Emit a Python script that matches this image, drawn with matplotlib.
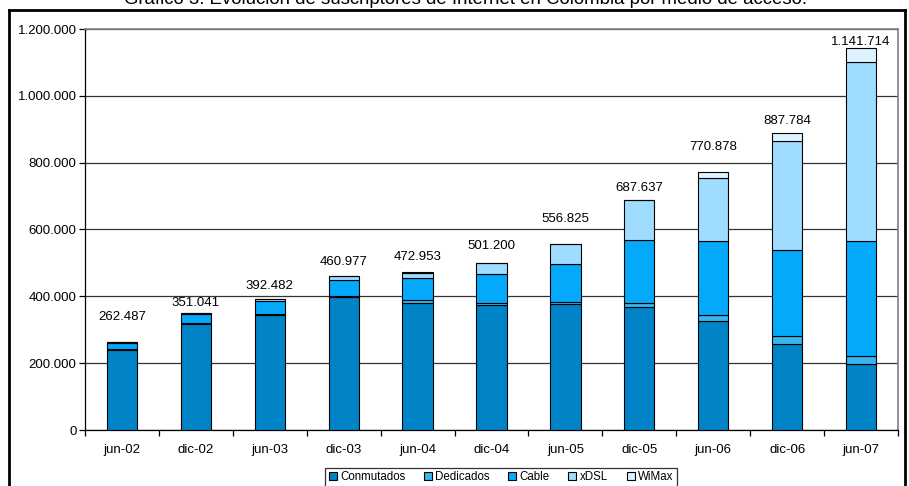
import matplotlib.pyplot as plt
from matplotlib.lines import Line2D
from matplotlib.ticker import FuncFormatter, FixedLocator
import numpy as np

plt.rcParams['font.family'] = ['Liberation Sans', 'DejaVu Sans']

# Data (suscriptores por medio de acceso)
periodos = ['jun-02', 'dic-02', 'jun-03', 'dic-03', 'jun-04', 'dic-04',
            'jun-05', 'dic-05', 'jun-06', 'dic-06', 'jun-07']
conmutados = [238000, 317000, 345000, 398000, 380000, 374000, 376000, 369000, 326000, 258000, 197000]
dedicados = [3000, 3000, 3000, 3000, 8000, 7000, 8000, 12000, 19000, 23000, 23000]
cable = [20000, 28000, 38000, 48000, 66000, 86000, 113000, 188000, 221000, 257000, 347000]
xdsl = [1487, 3041, 6482, 11977, 16000, 33000, 59000, 118637, 188000, 326784, 533000]
wimax = [0, 0, 0, 0, 2953, 1200, 825, 0, 16878, 23000, 41714]
totales = [262487, 351041, 392482, 460977, 472953, 501200, 556825, 687637, 770878, 887784, 1141714]

series = [('Conmutados', conmutados, '#0084c7'),
          ('Dedicados', dedicados, '#3ab4ec'),
          ('Cable', cable, '#05a9fb'),
          ('xDSL', xdsl, '#a0dcff'),
          ('WiMax', wimax, '#dcf3ff')]

fig = plt.figure(figsize=(9.09, 4.86), dpi=100)
ax = fig.add_axes([85 / 909, 56 / 486, 813 / 909, 401 / 486])

x = np.arange(len(periodos))
bottom = np.zeros(len(periodos))
for name, vals, col in series:
    ax.bar(x, vals, width=0.41, bottom=bottom, color=col, edgecolor='black',
           linewidth=0.8, label=name, zorder=3)
    bottom += np.array(vals)

# label gaps in points above each bar
gaps = [18, 7, 9, 10, 11, 12, 18, 9, 18, 9, 5]
for xi, tot, g in zip(x, totales, gaps):
    ax.annotate(f'{tot:,}'.replace(',', '.'), (xi, tot), xytext=(0, g),
                textcoords='offset points', ha='center', va='center', fontsize=9.5)

ax.set_xlim(-0.5, len(periodos) - 0.5)
ax.set_ylim(0, 1200000)
ax.set_yticks(np.arange(0, 1200001, 200000))
ax.yaxis.set_major_formatter(FuncFormatter(lambda v, p: f'{int(v):,}'.replace(',', '.')))
ax.grid(axis='y', color='#333333', linewidth=0.9, zorder=0)

ax.xaxis.set_major_locator(FixedLocator(np.arange(-0.5, len(periodos))))
ax.xaxis.set_minor_locator(FixedLocator(x))
ax.set_xticklabels([], minor=False)
ax.set_xticklabels(periodos, minor=True)
ax.tick_params(axis='x', which='major', direction='out', length=4, width=0.9)
ax.tick_params(axis='x', which='minor', length=0, pad=10, labelsize=9.5)
ax.tick_params(axis='y', direction='out', length=4, width=0.9, labelsize=9.5, pad=2)

for s in ['left', 'bottom']:
    ax.spines[s].set_color('black')
    ax.spines[s].set_linewidth(0.9)
for s in ['top', 'right']:
    ax.spines[s].set_color('#808080')
    ax.spines[s].set_linewidth(1.2)

leg = fig.legend(loc='upper center', bbox_to_anchor=(501 / 909, 1 - 468 / 486), ncol=5,
                 fontsize=8.3, frameon=True, fancybox=False, edgecolor='black',
                 handlelength=0.7, handleheight=0.7, handletextpad=0.3,
                 columnspacing=1.6, borderpad=0.3, borderaxespad=0)
leg.get_frame().set_linewidth(0.9)

# outer frame of chart
fw = 2.0
fig.add_artist(Line2D([9 / 909, 9 / 909], [0, 1 - 10 / 486], color='black', linewidth=fw))
fig.add_artist(Line2D([905 / 909, 905 / 909], [0, 1 - 10 / 486], color='black', linewidth=fw))
fig.add_artist(Line2D([9 / 909, 905 / 909], [1 - 10 / 486, 1 - 10 / 486], color='black', linewidth=fw))

fig.text(466 / 909, 1 - 4.5 / 486,
         'Gráfico 3. Evolución de suscriptores de Internet en Colombia por medio de acceso.',
         ha='center', va='baseline', fontsize=13.4)

fig.savefig('out.png', dpi=100)
